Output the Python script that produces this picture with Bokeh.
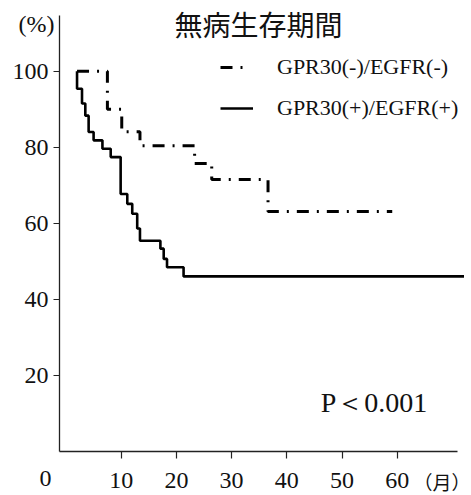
from bokeh.plotting import figure
from bokeh.models import Label, Legend, LegendItem, FixedTicker, Range1d
from bokeh.embed import file_html
from bokeh.resources import INLINE

# ---- data ----
neg_months = [2.0, 7.5, 10.1, 13.4, 23.3, 26.4, 36.6, 59.1]
neg_surv = [100.0, 90.0, 84.1, 80.4, 75.7, 71.5, 63.1, 63.1]

pos_months = [2.0, 2.0, 2.9, 3.5, 4.1, 5.0, 6.6, 8.1, 9.9, 11.1, 12.0, 12.9,
              13.4, 17.1, 17.7, 18.3, 21.3, 72.1]
pos_surv = [100.0, 95.4, 91.5, 88.3, 84.0, 81.8, 79.6, 77.4, 67.7, 65.1, 62.5,
            58.6, 55.4, 53.3, 50.6, 48.4, 46.0, 46.0]

x_ticks = [10, 20, 30, 40, 50, 60]
y_ticks = [20, 40, 60, 80, 100]
series_names = ["GPR30(-)/EGFR(-)", "GPR30(+)/EGFR(+)"]
title_text = "無病生存期間"
y_unit = "(%)"
origin_text = "0"
x_unit = "（月）"
p_text = "P＜0.001"

SERIF = "Liberation Serif"
CJK = "Noto Sans CJK JP"

p = figure(width=471, height=495, output_backend="svg", toolbar_location=None,
           title=None,
           x_range=Range1d(-11.866, 73.46), y_range=Range1d(-11.66, 118.61),
           min_border_left=0, min_border_right=0, min_border_top=0,
           min_border_bottom=0)
p.background_fill_color = "white"
p.border_fill_color = "white"
p.outline_line_color = None
p.xgrid.visible = False
p.ygrid.visible = False

for ax in (p.xaxis[0], p.yaxis[0]):
    ax.axis_line_color = "#222222"
    ax.axis_line_width = 1.3
    ax.major_tick_line_color = "#222222"
    ax.major_tick_line_width = 1.2
    ax.major_tick_in = 0
    ax.minor_tick_line_color = None
    ax.major_label_text_font = SERIF
    ax.major_label_text_font_size = "24px"
    ax.major_label_text_color = "#111111"

p.xaxis.ticker = FixedTicker(ticks=x_ticks)
p.xaxis.fixed_location = 0
p.xaxis.bounds = (-1.2, 70.9)
p.xaxis.major_tick_out = 7
p.xaxis.major_label_standoff = 15

p.yaxis.ticker = FixedTicker(ticks=y_ticks)
p.yaxis.fixed_location = -1.2
p.yaxis.bounds = (0, 114.7)
p.yaxis.major_tick_out = 6
p.yaxis.major_label_standoff = 5

r_neg = p.step(neg_months, neg_surv, mode="after", line_color="black",
               line_width=3, line_dash="12 8 2 8")
r_pos = p.step(pos_months, pos_surv, mode="after", line_color="black",
               line_width=2.6)

leg_style = dict(padding=0, margin=0, border_line_color=None,
                 background_fill_alpha=0, label_text_font=SERIF,
                 label_text_font_size="22px", label_text_color="#111111",
                 glyph_height=20)
leg1 = Legend(items=[LegendItem(label=series_names[0], renderers=[r_neg])],
              location=(220, 415), glyph_width=26, label_standoff=31, **leg_style)
leg2 = Legend(items=[LegendItem(label=series_names[1], renderers=[r_pos])],
              location=(220, 374), glyph_width=33, label_standoff=24, **leg_style)
p.add_layout(leg1, "center")
p.add_layout(leg2, "center")

def add_label(x, y, text, font, size, align="center"):
    p.add_layout(Label(x=x, y=y, text=text, text_font=font, text_font_size=size,
                       text_align=align, text_baseline="middle",
                       text_color="#111111"))

add_label(34.87, 112.3, title_text, CJK, "28px")
add_label(-5.34, 112.5, y_unit, SERIF, "24px")
add_label(-3.71, -7.2, origin_text, SERIF, "24px")
add_label(73.3, -7.97, x_unit, CJK, "19px", align="right")
add_label(55.8, 12.9, p_text, SERIF, "28px")

open("out.html", "w").write(file_html(p, INLINE))
